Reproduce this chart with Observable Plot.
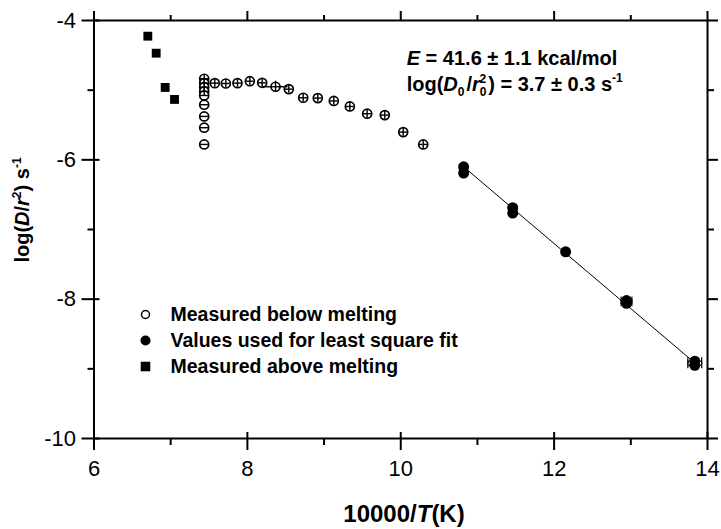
<!DOCTYPE html>
<html><head><meta charset="utf-8">
<script src="https://cdn.jsdelivr.net/npm/d3@7"></script>
<script src="https://cdn.jsdelivr.net/npm/@observablehq/plot@0.6"></script>
<style>
html,body{margin:0;padding:0;background:#fff;}
svg{display:block;}
</style></head><body><div id="chart"></div>
<script>
// Measured below melting (open circles)
const belowX = [7.437, 7.437, 7.437, 7.437, 7.437, 7.437, 7.437, 7.437, 7.437,
                7.575, 7.719, 7.871, 8.032, 8.193, 8.367, 8.540, 8.728, 8.918, 9.127, 9.336, 9.562, 9.792, 10.032, 10.293];
const belowY = [-4.836, -4.899, -4.957, -5.018, -5.076, -5.209, -5.377, -5.539, -5.779,
                -4.899, -4.904, -4.899, -4.871, -4.894, -4.951, -4.985, -5.109, -5.114, -5.155, -5.234, -5.338, -5.358, -5.602, -5.779];
const belowXErr = [0.055, 0.055, 0.055, 0.055, 0.055, 0.055, 0.055, 0.055, 0.055,
                   0.055, 0.055, 0.055, 0.055, 0.055, 0.163, 0.055, 0.055, 0.055, 0.055, 0.055, 0.055, 0.055, 0.055, 0.055];
const belowYErr = [0.06, 0.06, 0.06, 0.06, 0, 0, 0, 0, 0,
                   0.06, 0.06, 0.06, 0.06, 0.06, 0.08, 0.06, 0.06, 0.06, 0.06, 0.06, 0.06, 0.06, 0.06, 0.06];
// Values used for least square fit (filled circles)
const fitX = [10.82, 10.82, 11.46, 11.46, 12.15, 12.944, 12.944, 13.834, 13.834];
const fitY = [-6.10, -6.19, -6.687, -6.764, -7.32, -8.02, -8.06, -8.89, -8.95];
const fitXErr = [0, 0, 0, 0, 0.04, 0.07, 0.07, 0.09, 0.09];
// Measured above melting (filled squares)
const aboveX = [6.702, 6.811, 6.928, 7.05];
const aboveY = [-4.225, -4.469, -4.961, -5.133];
// Least-squares line end points
const lineX = [10.82, 13.84];
const lineY = [-6.10, -8.92];
// Axis ticks
const xMajor = [6, 8, 10, 12, 14];
const xMinor = [7, 9, 11, 13];
const yMajor = [-10, -8, -6, -4];
const yMinor = [-9, -7, -5];
const legendLabels = ["Measured below melting", "Values used for least square fit", "Measured above melting"];

const below = belowX.map((x, i) => ({x, y: belowY[i], ex: belowXErr[i], ey: belowYErr[i]}));
const fit = fitX.map((x, i) => ({x, y: fitY[i], ex: fitXErr[i]}));
const above = aboveX.map((x, i) => ({x, y: aboveY[i]}));
const line = lineX.map((x, i) => ({x, y: lineY[i]}));
const fitErr = fit.filter(d => d.ex > 0);
const fitCaps = fitErr.flatMap(d => [{x: d.x - d.ex, y: d.y}, {x: d.x + d.ex, y: d.y}]);

const FONT = "'Liberation Sans', Arial, Helvetica, sans-serif";
const tickFont = 22;

const legendDx = 76.5, legendDy0 = 294, legendStep = 26;

const plot = Plot.plot({
  width: 721,
  height: 529,
  marginLeft: 93.5,
  marginRight: 14,
  marginTop: 20,
  marginBottom: 91,
  style: {fontFamily: FONT, background: "white", color: "black", overflow: "visible"},
  x: {domain: [6, 14]},
  y: {domain: [-10, -4]},
  marks: [
    Plot.frame({strokeWidth: 2}),
    // bottom axis
    Plot.axisX({anchor: "bottom", ticks: xMajor, tickSize: 12, tickPadding: 10, strokeWidth: 2, fontSize: tickFont, label: null, tickFormat: d => String(d)}),
    Plot.axisX({anchor: "bottom", ticks: xMajor, tickSize: -6, strokeWidth: 2, fill: "none", label: null}),
    Plot.axisX({anchor: "bottom", ticks: xMinor, tickSize: 7, strokeWidth: 2, fill: "none", label: null}),
    // top axis
    Plot.axisX({anchor: "top", ticks: xMajor, tickSize: 10, strokeWidth: 2, fill: "none", label: null}),
    Plot.axisX({anchor: "top", ticks: xMinor, tickSize: 6, strokeWidth: 2, fill: "none", label: null}),
    // left axis
    Plot.axisY({anchor: "left", ticks: yMajor, tickSize: 12, tickPadding: 6, strokeWidth: 2, fontSize: tickFont, label: null, tickFormat: d => String(d)}),
    Plot.axisY({anchor: "left", ticks: yMajor, tickSize: -6, strokeWidth: 2, fill: "none", label: null}),
    Plot.axisY({anchor: "left", ticks: yMinor, tickSize: 6, strokeWidth: 2, fill: "none", label: null}),
    // right axis
    Plot.axisY({anchor: "right", ticks: yMajor, tickSize: 10, strokeWidth: 2, fill: "none", label: null}),
    Plot.axisY({anchor: "right", ticks: yMinor, tickSize: 6, strokeWidth: 2, fill: "none", label: null}),
    // fit line
    Plot.line(line, {x: "x", y: "y", stroke: "black", strokeWidth: 1}),
    // open circles
    Plot.dot(below, {x: "x", y: "y", r: 4.5, fill: "white", stroke: "black", strokeWidth: 1.7}),
    Plot.ruleY(below.filter(d => d.ex > 0), {y: "y", x1: d => d.x - d.ex, x2: d => d.x + d.ex, stroke: "black", strokeWidth: 1.4}),
    Plot.ruleX(below.filter(d => d.ey > 0), {x: "x", y1: d => d.y - d.ey, y2: d => d.y + d.ey, stroke: "black", strokeWidth: 1.4}),
    // filled circles with error bars
    Plot.ruleY(fitErr, {y: "y", x1: d => d.x - d.ex, x2: d => d.x + d.ex, stroke: "black", strokeWidth: 1.2}),
    Plot.ruleX(fitCaps, {x: "x", y1: d => d.y - 0.05, y2: d => d.y + 0.05, stroke: "black", strokeWidth: 1.2}),
    Plot.dot(fit, {x: "x", y: "y", r: 5.5, fill: "black"}),
    // squares
    Plot.dot(above, {x: "x", y: "y", symbol: "square", r: 5, fill: "black"}),
    // legend symbols
    Plot.dot([0], {frameAnchor: "top-left", dx: 51.5, dy: legendDy0, r: 4, fill: "white", stroke: "black", strokeWidth: 1.5}),
    Plot.dot([0], {frameAnchor: "top-left", dx: 51.5, dy: legendDy0 + legendStep, r: 5, fill: "black"}),
    Plot.dot([0], {frameAnchor: "top-left", dx: 51.5, dy: legendDy0 + 2 * legendStep, symbol: "square", r: 5.4, fill: "black"}),
    ...legendLabels.map((t, i) => Plot.text([t], {
      frameAnchor: "top-left", dx: legendDx, dy: legendDy0 + i * legendStep, text: d => d,
      textAnchor: "start", lineAnchor: "middle", fontSize: 19.5, fontWeight: "bold", fill: "black"
    }))
  ]
});

document.getElementById("chart").appendChild(plot);

// rich text helpers (italics, sub/superscripts)
const svg = d3.select(plot);
function rich(g, parts) {
  parts.forEach(p => {
    const ts = g.append("tspan").text(p.t);
    if (p.i) ts.attr("font-style", "italic");
    if (p.s) ts.attr("font-size", p.s);
    if (p.dx) ts.attr("dx", p.dx);
    if (p.dy) ts.attr("dy", p.dy);
  });
}

// annotation
const ann = svg.append("g").attr("font-family", FONT).attr("font-weight", "bold").attr("font-size", 20)
  .attr("fill", "black").attr("text-anchor", "start");
rich(ann.append("text").attr("x", 406.7).attr("y", 65), [
  {t: "E", i: true}, {t: " = 41.6 ± 1.1 kcal/mol"}
]);
rich(ann.append("text").attr("x", 406.7).attr("y", 91), [
  {t: "log("}, {t: "D", i: true}, {t: "0", s: 12, dy: 5}, {t: "/", dy: -5, dx: 2}, {t: "r", i: true},
  {t: "0", s: 12, dy: 5}, {t: "2", s: 12, dx: -7, dy: -13}, {t: ")", dy: 8, dx: 2}, {t: " = 3.7 ± 0.3 s"}, {t: "-1", s: 12, dy: -9}
]);

// x title
const xt = svg.append("text").attr("x", 404).attr("y", 522).attr("text-anchor", "middle")
  .attr("font-family", FONT).attr("font-weight", "bold").attr("font-size", 24).attr("fill", "black");
rich(xt, [{t: "10000/"}, {t: "T", i: true}, {t: "(K)"}]);

// y title
const yt = svg.append("text").attr("transform", "translate(29,210) rotate(-90)").attr("text-anchor", "middle")
  .attr("font-family", FONT).attr("font-weight", "bold").attr("font-size", 20).attr("fill", "black");
rich(yt, [{t: "log("}, {t: "D", i: true}, {t: "/"}, {t: "r", i: true}, {t: "2", s: 12, dy: -8}, {t: ")", dy: 8}, {t: " s"}, {t: "-1", s: 12, dy: -8}]);
</script>
</body></html>
